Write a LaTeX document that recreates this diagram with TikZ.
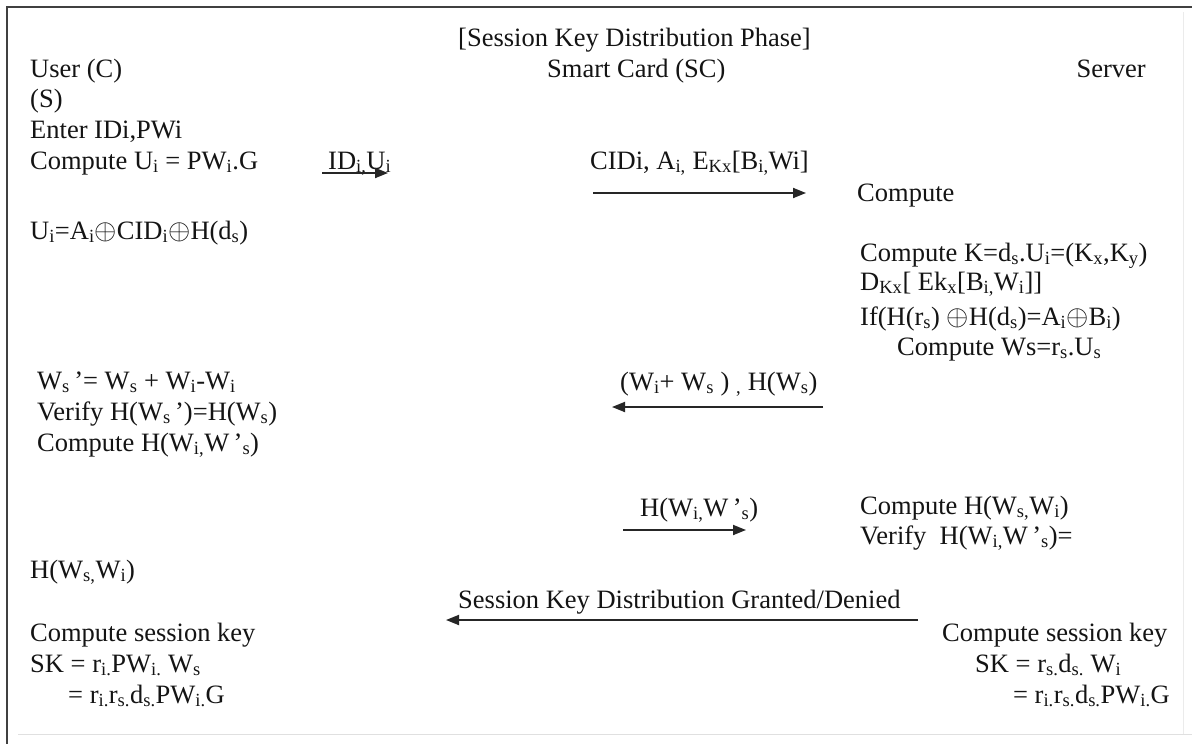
\documentclass[tikz,border=0pt]{standalone}
\usepackage{fontspec}
\setmainfont{Liberation Serif}
\usetikzlibrary{arrows.meta}
\newcommand\sbs[1]{\textsubscript{#1}}
\newcommand\xr{\scalebox{1.15}{$\oplus$}}
\begin{document}
\begin{tikzpicture}[x=1pt,y=-1pt,
  txt/.style={inner sep=0pt, anchor=base west, text=black!92,
    font=\fontsize{26.5}{30}\selectfont},
  txtr/.style={txt, anchor=base east},
  msg/.style={line width=1.8pt, draw=black!85,
    -{Triangle[length=13pt,width=10pt]}}]
\useasboundingbox (0,0) rectangle (1192,744);
\fill[white] (0,0) rectangle (1192,744);

% frame
\draw[line width=2.2pt, black!75] (1192,7) -- (7,7) -- (7,744);
\draw[line width=1pt, black!12] (18,734) -- (1192,734);
\draw[line width=1pt, black!8] (1183,12) -- (1183,734);

% headings
\node[txt] (title) at (458,46) {[Session Key Distribution Phase]};
\node[txt] (user) at (30,77) {User (C)};
\node[txt] (card) at (547,77) {Smart Card (SC)};
\node[txtr] (server) at (1146,77) {Server};

% user side
\node[txt] (u1) at (30,107) {(S)};
\node[txt] (u2) at (30,138) {Enter IDi,PWi};
\node[txt] (u3) at (30,169) {Compute U\sbs{i} = PW\sbs{i}.G};
\node[txt] (u4) at (30,239) {U\sbs{i}=A\sbs{i}\xr CID\sbs{i}\xr H(d\sbs{s})};
\node[txt] (u5) at (37,389) {W\sbs{s}\,'= W\sbs{s} + W\sbs{i}-W\sbs{i}};
\node[txt] (u6) at (37,420) {Verify H(W\sbs{s}\,')=H(W\sbs{s})};
\node[txt] (u7) at (37,451) {Compute H(W\sbs{i,}W\,'\sbs{s})};
\node[txt] (u8) at (30,578) {H(W\sbs{s,}W\sbs{i})};
\node[txt] (u9) at (30,641) {Compute session key};
\node[txt] (u10) at (30,672) {SK = r\sbs{i.}PW\sbs{i.} W\sbs{s}};
\node[txt] (u11) at (68,703) {= r\sbs{i.}r\sbs{s.}d\sbs{s.}PW\sbs{i.}G};

% server side
\node[txt] (s1) at (857,201) {Compute};
\node[txt] (s2) at (860,261) {Compute K=d\sbs{s}.U\sbs{i}=(K\sbs{x},K\sbs{y})};
\node[txt] (s3) at (860,290) {D\sbs{Kx}[ Ek\sbs{x}[B\sbs{i,}W\sbs{i}]]};
\node[txt] (s4) at (860,325) {If(H(r\sbs{s}) \xr H(d\sbs{s})=A\sbs{i}\xr B\sbs{i})};
\node[txt] (s5) at (897,355) {Compute Ws=r\sbs{s}.U\sbs{s}};
\node[txt] (s6) at (860,514) {Compute H(W\sbs{s,}W\sbs{i})};
\node[txt] (s7) at (860,544) {Verify~ H(W\sbs{i,}W\,'\sbs{s})=};
\node[txt] (s8) at (942,641) {Compute session key};
\node[txt] (s9) at (975,672) {SK = r\sbs{s.}d\sbs{s.} W\sbs{i}};
\node[txtr] (s10) at (1170,703) {= r\sbs{i.}r\sbs{s.}d\sbs{s.}PW\sbs{i.}G};

% messages
\node[txt] (m1) at (328,169) {ID\sbs{i,}U\sbs{i}};
\coordinate (m1a) at (322,173);
\coordinate (m1b) at (388,173);
\draw[msg] (m1a) -- (m1b);

\node[txt] (m2) at (590,169) {CIDi, A\sbs{i,} E\sbs{Kx}[B\sbs{i,}Wi]};
\coordinate (m2a) at (593,193);
\coordinate (m2b) at (806,193);
\draw[msg] (m2a) -- (m2b);

\node[txt] (m3) at (620,390) {(W\sbs{i}+ W\sbs{s} ) \sbs{,} H(W\sbs{s})};
\coordinate (m3a) at (823,407);
\coordinate (m3b) at (612,407);
\draw[msg] (m3a) -- (m3b);

\node[txt] (m4) at (640,516) {H(W\sbs{i,}W\,'\sbs{s})};
\coordinate (m4a) at (623,530);
\coordinate (m4b) at (746,530);
\draw[msg] (m4a) -- (m4b);

\node[txt] (m5) at (458,608) {Session Key Distribution Granted/Denied};
\coordinate (m5a) at (918,620);
\coordinate (m5b) at (446,620);
\draw[msg] (m5a) -- (m5b);
\end{tikzpicture}
\end{document}
